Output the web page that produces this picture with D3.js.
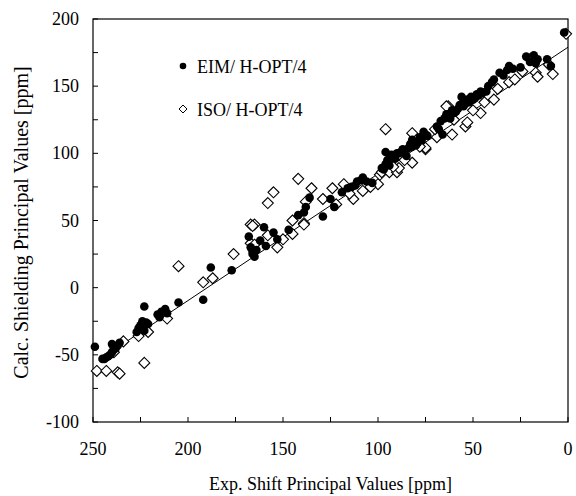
<!DOCTYPE html>
<html>
<head>
<meta charset="utf-8">
<script src="https://cdn.jsdelivr.net/npm/d3@7"></script>
<style>
  html, body { margin: 0; padding: 0; background: #fff; }
  svg text { font-family: "Liberation Serif", "Times New Roman", serif; fill: #000; }
</style>
</head>
<body>
<svg id="chart" width="576" height="496"></svg>
<script>
// ---- data (x = experimental shift [ppm], y = calculated shielding [ppm]) ----
const eimX = [249,245,243,242,241,240,239,238,240,237,236,244,
  223,226,225,224,222,223,221,227,
  216,214,212,215,211,205,192,188,177,
  166,166,167,168,165,160,159,155,153,147,164,162,
  142,139,138,136,129,125,123,119,116,114,111,108,106,103,112,109,
  98,97,96,95,95,93,92,90,89,88,87,96,85,86,84,82,82,80,79,78,77,75,74,76,91,94,83,
  69,67,66,68,65,64,63,61,60,58,57,56,55,55,53,52,51,50,48,47,46,45,43,42,62,59,54,49,
  40,39,36,34,32,31,29,25,22,20,18,17,16,11,9,2];
const eimY = [-44,-53,-52,-51,-50,-48,-46,-45,-42,-43,-41,-53,
  -14,-30,-28,-25,-26,-32,-27,-33,
  -20,-18,-16,-22,-19,-11,-9,15,13,
  25,27,30,38,23,45,31,41,36,43,28,35,
  54,56,60,67,53,66,60,71,74,75,79,82,79,78,76,80,
  89,88,92,94,95,99,98,100,100,101,103,101,98,100,104,105,110,106,108,112,110,114,113,116,96,91,107,
  120,124,114,118,126,129,127,132,130,133,136,142,138,135,140,138,142,140,144,143,146,145,146,150,126,131,137,141,
  153,155,160,158,162,165,163,164,172,168,173,167,170,170,165,190];

const isoX = [248,243,237,236,223,239,226,221,211,234,
  192,187,205,176,167,165,166,167,165,158,153,145,139,
  158,155,142,135,138,139,129,124,122,118,113,100,96,
  99,98,94,90,89,82,75,75,82,69,61,54,53,63,64,46,39,31,24,17,10,8,16,20,1,
  86,78,70,60,50,44,37,28,92,104,108,115,145,150];
const isoY = [-62,-62,-63,-64,-56,-48,-36,-33,-23,-40,
  4,7,16,25,47,47,46,33,32,39,30,40,48,
  63,71,81,74,64,47,66,74,62,77,66,77,118,
  84,86,86,86,89,93,103,104,115,112,114,120,123,135,135,130,140,153,161,160,166,159,157,170,189,
  95,105,118,125,132,138,148,155,90,75,72,70,50,36];

// fitted line end points (x values) and its parameters
const fitX = [247, 0];
const fitIntercept = 179;
const fitSlope = -0.943;

const xTicks = [250, 200, 150, 100, 50, 0];
const yTicks = [200, 150, 100, 50, 0, -50, -100];
const minorX = d3.range(0, 251, 25);
const minorY = d3.range(-100, 201, 25);

const seriesNames = ["EIM/ H-OPT/4", "ISO/ H-OPT/4"];
const xTitle = "Exp. Shift Principal Values [ppm]";
const yTitle = "Calc. Shielding Principal Values [ppm]";

// ---- layout ----
const L = 93, R = 568, T = 19, B = 422;
const svg = d3.select("#chart");
const x = d3.scaleLinear().domain([250, 0]).range([L, R]);
const y = d3.scaleLinear().domain([-100, 200]).range([B, T]);
const FS = 18;

// frame
svg.append("rect").attr("x", L).attr("y", T).attr("width", R - L).attr("height", B - T)
  .attr("fill", "none").attr("stroke", "#000").attr("stroke-width", 1.2);

// inward ticks
svg.append("g").selectAll("line").data(minorX).join("line")
  .attr("x1", d => x(d)).attr("x2", d => x(d)).attr("y1", B).attr("y2", B - 5)
  .attr("stroke", "#000").attr("stroke-width", 1);
svg.append("g").selectAll("line").data(minorY).join("line")
  .attr("y1", d => y(d)).attr("y2", d => y(d)).attr("x1", L).attr("x2", L + 5)
  .attr("stroke", "#000").attr("stroke-width", 1);

// tick labels
svg.append("g").selectAll("text").data(xTicks).join("text")
  .attr("x", d => x(d)).attr("y", 455).attr("text-anchor", "middle")
  .attr("font-size", FS).text(d => d);
svg.append("g").selectAll("text").data(yTicks).join("text")
  .attr("x", 79).attr("y", d => y(d) + 6).attr("text-anchor", "end")
  .attr("font-size", FS).text(d => d);

// axis titles
svg.append("text").attr("x", (L + R) / 2).attr("y", 490).attr("text-anchor", "middle")
  .attr("font-size", FS).text(xTitle);
svg.append("text").attr("transform", `translate(28,${(T + B) / 2 + 2}) rotate(-90)`)
  .attr("text-anchor", "middle").attr("font-size", 20).text(yTitle);

// fit line
svg.append("line")
  .attr("x1", x(fitX[0])).attr("y1", y(fitIntercept + fitSlope * fitX[0]))
  .attr("x2", x(fitX[1])).attr("y2", y(fitIntercept + fitSlope * fitX[1]))
  .attr("stroke", "#000").attr("stroke-width", 1);

// ISO diamonds
const diamond = (cx, cy, r) => `M${cx},${cy - r}L${cx + r},${cy}L${cx},${cy + r}L${cx - r},${cy}Z`;
svg.append("g").selectAll("path").data(d3.zip(isoX, isoY)).join("path")
  .attr("d", d => diamond(x(d[0]), y(d[1]), 5.5))
  .attr("fill", "#fff").attr("stroke", "#000").attr("stroke-width", 1.1);

// EIM circles
svg.append("g").selectAll("circle").data(d3.zip(eimX, eimY)).join("circle")
  .attr("cx", d => x(d[0])).attr("cy", d => y(d[1])).attr("r", 4.3)
  .attr("fill", "#000");

// legend
svg.append("circle").attr("cx", 183).attr("cy", 66).attr("r", 3.3).attr("fill", "#000");
svg.append("text").attr("x", 197).attr("y", 73).attr("font-size", FS).text(seriesNames[0]);
svg.append("path").attr("d", diamond(183, 109, 4)).attr("fill", "#fff").attr("stroke", "#000").attr("stroke-width", 1);
svg.append("text").attr("x", 197).attr("y", 116).attr("font-size", FS).text(seriesNames[1]);
</script>
</body>
</html>
